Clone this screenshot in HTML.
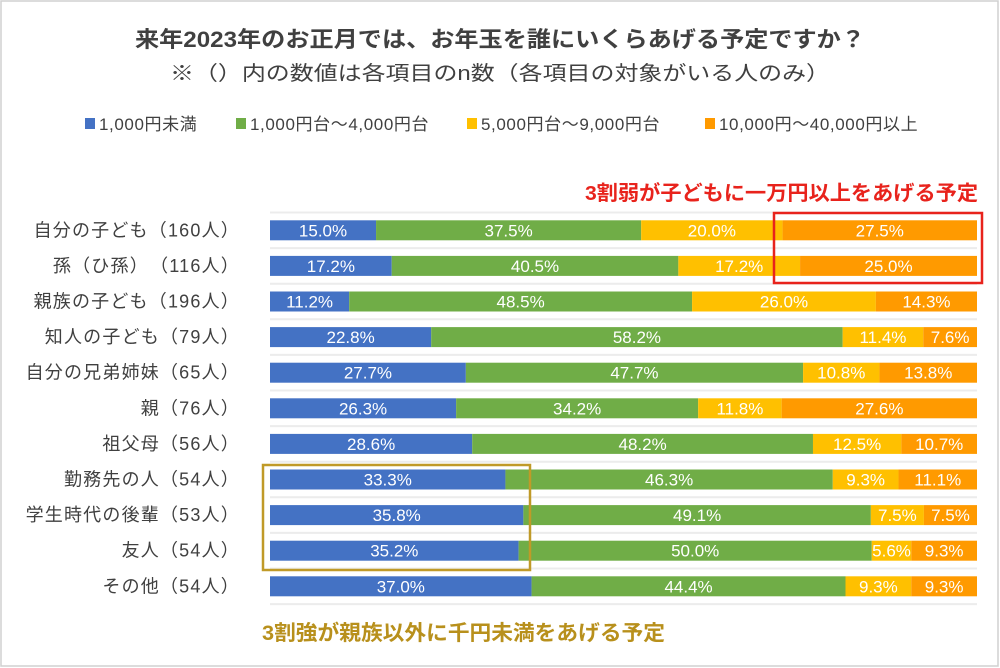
<!DOCTYPE html>
<html><head><meta charset="utf-8">
<style>
body{margin:0;background:#fff;}
#wrap{position:relative;width:1000px;height:668px;overflow:hidden;font-family:"Liberation Sans","Noto Sans CJK JP",sans-serif;}
svg text{font-family:"Liberation Sans","Noto Sans CJK JP",sans-serif;}
</style></head>
<body>
<div id="wrap">
<svg id="chart" width="1000" height="668">
<rect x="1" y="1" width="997" height="665" fill="#fff" stroke="#d0d0d0" stroke-width="1.5"/>
<text x="135" y="47" textLength="730" lengthAdjust="spacingAndGlyphs" font-size="22" font-weight="bold" fill="#404040">来年2023年のお正月では、お年玉を誰にいくらあげる予定ですか？</text>
<text x="170" y="80" textLength="660" lengthAdjust="spacingAndGlyphs" font-size="20" fill="#404040">※（）内の数値は各項目のn数（各項目の対象がいる人のみ）</text>
<g id="legend"></g>
<g id="bars"></g>
<text x="585" y="200" textLength="393" lengthAdjust="spacingAndGlyphs" font-size="20.5" font-weight="bold" fill="#e8231c">3割弱が子どもに一万円以上をあげる予定</text>
<rect x="774" y="213" width="208" height="70" fill="none" stroke="#e8231c" stroke-width="2.5"/>
<rect x="263" y="465" width="267" height="105" fill="none" stroke="#c09a28" stroke-width="2.5"/>
<text x="262" y="640" textLength="403" lengthAdjust="spacingAndGlyphs" font-size="21" font-weight="bold" fill="#b8901c">3割強が親族以外に千円未満をあげる予定</text>
</svg>
</div>
<script>
const categories=["自分の子ども（160人）","孫（ひ孫）　（116人）","親族の子ども（196人）","知人の子ども（79人）","自分の兄弟姉妹（65人）","親（76人）","祖父母（56人）","勤務先の人（54人）","学生時代の後輩（53人）","友人（54人）","その他（54人）"];
const seriesNames=["1,000円未満","1,000円台～4,000円台","5,000円台～9,000円台","10,000円～40,000円以上"];
const s1=[15.0,17.2,11.2,22.8,27.7,26.3,28.6,33.3,35.8,35.2,37.0];
const s2=[37.5,40.5,48.5,58.2,47.7,34.2,48.2,46.3,49.1,50.0,44.4];
const s3=[20.0,17.2,26.0,11.4,10.8,11.8,12.5,9.3,7.5,5.6,9.3];
const s4=[27.5,25.0,14.3,7.6,13.8,27.6,10.7,11.1,7.5,9.3,9.3];
const colors=["#4472c4","#70ad47","#ffc000","#ff9a00"];
const NS="http://www.w3.org/2000/svg";
const x0=270,x1=977,rowTop=213,rowH=35.6,barH=20;
function xs(v){return x0+(x1-x0)*v/100;}
function yc(i){return rowTop+rowH*i+rowH/2-0.5;}
function mk(t,a,p){const e=document.createElementNS(NS,t);for(const k in a)e.setAttribute(k,a[k]);p.appendChild(e);return e;}
const bars=document.getElementById('bars');
for(let i=0;i<=categories.length;i++){
  const l=mk('line',{x1:x0,x2:x1,y1:rowTop+rowH*i-0.5,y2:rowTop+rowH*i-0.5,stroke:'#ececec','stroke-width':2},bars);
  
  
}
const series=[s1,s2,s3,s4];
categories.forEach((c,i)=>{
  const t=mk('text',{x:240,y:yc(i)+6,'text-anchor':'end','font-size':18,'letter-spacing':1.2,fill:'#404040'},bars);
  t.textContent=c;
  
  
  const tot=series.reduce((a,s)=>a+s[i],0);
  let acc=0;
  series.forEach((s,k)=>{
    const v=s[i]/tot*100;
    const r=mk('rect',{x:xs(acc),y:yc(i)-barH/2,width:xs(acc+v)-xs(acc),height:barH,fill:colors[k]},bars);
    
    
    const lb=mk('text',{x:(xs(acc)+xs(acc+v))/2,y:yc(i)+6,'text-anchor':'middle','font-size':17,fill:'#fff'},bars);
    lb.textContent=s[i].toFixed(1)+'%';
    
    
    acc+=v;
  });
});
const lg=document.getElementById('legend');
const lx=[85,236,467,705];
seriesNames.forEach((n,k)=>{
  const r=mk('rect',{x:lx[k],y:118,width:10,height:11,fill:colors[k]},lg);
  
  
  const t=mk('text',{x:lx[k]+14,y:130,'font-size':17,'letter-spacing':0.6,fill:'#404040'},lg);
  t.textContent=n;
  
  
});
</script>
</body></html>
